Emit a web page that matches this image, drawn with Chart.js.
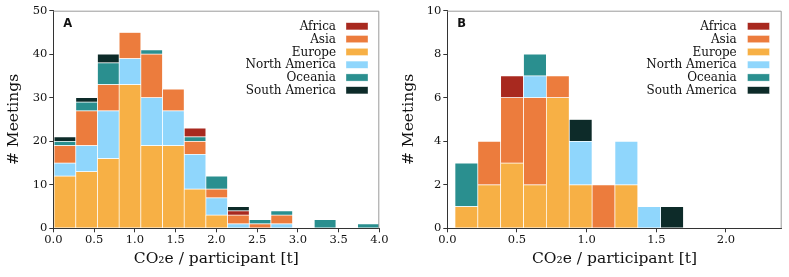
<!DOCTYPE html>
<html>
<head>
<meta charset="utf-8">
<script src="https://cdn.jsdelivr.net/npm/chart.js@4.4.0/dist/chart.umd.min.js"></script>
<style>
  html, body { margin: 0; padding: 0; background: #fff; }
  #wrap { position: relative; width: 789px; height: 277px; }
  #chartA { position: absolute; left: 0; top: 0; }
  #chartB { position: absolute; left: 395px; top: 0; }
</style>
</head>
<body>
<div id="wrap">
  <canvas id="chartA" width="395" height="277"></canvas>
  <canvas id="chartB" width="394" height="277"></canvas>
</div>
<script>
  'use strict';

  const regions = ['Africa', 'Asia', 'Europe', 'North America', 'Oceania', 'South America'];
  const regionColors = ['#a8291f', '#ec7c3d', '#f7b045', '#8fd6fc', '#2a8f8f', '#0d2b29'];

  // panel A : meetings per bin (bin centres in t CO2e / participant)
  const binsA = [0.143, 0.409, 0.675, 0.941, 1.207, 1.473, 1.739, 2.005, 2.271, 2.537, 2.803, 3.069, 3.335, 3.601, 3.867];
  const africaA       = [0, 0, 0, 0, 0, 0, 2, 0, 1, 0, 0, 0, 0, 0, 0];
  const asiaA         = [4, 8, 6, 6, 10, 5, 3, 2, 2, 1, 2, 0, 0, 0, 0];
  const europeA       = [12, 13, 16, 33, 19, 19, 9, 3, 0, 0, 0, 0, 0, 0, 0];
  const northAmericaA = [3, 6, 11, 6, 11, 8, 8, 4, 1, 0, 1, 0, 0, 0, 0];
  const oceaniaA      = [1, 2, 5, 0, 1, 0, 1, 3, 0, 1, 1, 0, 2, 0, 1];
  const southAmericaA = [1, 1, 2, 0, 0, 0, 0, 0, 1, 0, 0, 0, 0, 0, 0];
  const stackOrderA = ['Europe', 'North America', 'Asia', 'Oceania', 'Africa', 'South America'];
  const xTicksA = [0, 0.5, 1, 1.5, 2, 2.5, 3, 3.5, 4];
  const yTicksA = [0, 10, 20, 30, 40, 50];

  // panel B
  const binsB = [0.137, 0.301, 0.465, 0.629, 0.793, 0.957, 1.121, 1.285, 1.449, 1.613];
  const africaB       = [0, 0, 1, 0, 0, 0, 0, 0, 0, 0];
  const asiaB         = [0, 2, 3, 4, 1, 0, 2, 0, 0, 0];
  const europeB       = [1, 2, 3, 2, 6, 2, 0, 2, 0, 0];
  const northAmericaB = [0, 0, 0, 1, 0, 2, 0, 2, 1, 0];
  const oceaniaB      = [2, 0, 0, 1, 0, 0, 0, 0, 0, 0];
  const southAmericaB = [0, 0, 0, 0, 0, 1, 0, 0, 0, 1];
  const stackOrderB = ['Europe', 'Asia', 'North America', 'Oceania', 'Africa', 'South America'];
  const xTicksB = [0, 0.5, 1, 1.5, 2];
  const yTicksB = [0, 2, 4, 6, 8, 10];

  const serif = '"DejaVu Serif", serif';

  // frame, legend and panel letter
  const decoPlugin = {
    id: 'deco',
    afterDraw(chart, args, opts) {
      const ctx = chart.ctx;
      const a = chart.chartArea;
      ctx.save();
      // top / right spines
      ctx.strokeStyle = '#9a9a9a';
      ctx.lineWidth = 1;
      ctx.beginPath();
      ctx.moveTo(a.left, a.top + 0.5);
      ctx.lineTo(a.right - 0.5, a.top + 0.5);
      ctx.lineTo(a.right - 0.5, a.bottom);
      ctx.stroke();

      // panel letter
      ctx.fillStyle = '#111';
      ctx.font = 'bold 11.5px "DejaVu Sans", sans-serif';
      ctx.textAlign = 'left';
      ctx.textBaseline = 'alphabetic';
      ctx.fillText(opts.letter, a.left + 10, 27);

      // legend
      ctx.font = '12px ' + serif;
      ctx.textAlign = 'right';
      ctx.textBaseline = 'middle';
      regions.forEach(function(name, i) {
        const y = 26.3 + i * 12.8;
        ctx.fillStyle = '#111';
        ctx.fillText(name, opts.textRight, y + 0.5);
        ctx.fillStyle = regionColors[i];
        ctx.fillRect(opts.boxLeft, y - 3.6, 22, 7.2);
        ctx.strokeStyle = 'rgba(255,255,255,0.6)';
        ctx.lineWidth = 0.6;
        ctx.strokeRect(opts.boxLeft, y - 3.6, 22, 7.2);
      });
      ctx.restore();
    }
  };

  function makeChart(id, p) {
    const canvas = document.getElementById(id);
    const datasets = p.stackOrder.map(function(name) {
      const i = regions.indexOf(name);
      return {
        label: name,
        data: p.bins.map(function(x, k) {
          const v = p.series[name][k];
          return { x: x, y: v === 0 ? null : v };
        }),
        backgroundColor: regionColors[i],
        borderColor: 'rgba(255,255,255,0.85)',
        borderWidth: 0.7,
        borderSkipped: false,
        barPercentage: 1,
        categoryPercentage: 1
      };
    });

    return new Chart(canvas, {
      type: 'bar',
      data: { datasets: datasets },
      plugins: [decoPlugin],
      options: {
        responsive: false,
        animation: false,
        devicePixelRatio: 1,
        layout: {
          padding: { left: 0, top: p.area.top, right: canvas.width - p.area.right, bottom: 0 }
        },
        plugins: {
          legend: { display: false },
          tooltip: { enabled: false },
          deco: { letter: p.letter, textRight: p.legendTextRight, boxLeft: p.legendBoxLeft }
        },
        scales: {
          x: {
            type: 'linear',
            stacked: true,
            min: 0,
            max: p.xMax,
            offset: false,
            afterFit: function(s) { s.height = canvas.height - p.area.bottom; },
            afterBuildTicks: function(s) { s.ticks = p.xTicks.map(function(v) { return { value: v }; }); },
            grid: { display: true, offset: false, drawOnChartArea: false, drawTicks: true, tickLength: 4, color: '#333', tickWidth: 1 },
            border: { display: true, color: '#333', width: 1 },
            ticks: {
              padding: 1,
              color: '#111',
              font: { family: serif, size: 11.5 },
              maxRotation: 0,
              callback: function(v) { return v.toFixed(1); }
            },
            title: {
              display: true,
              text: 'CO₂e / participant [t]',
              color: '#111',
              font: { family: serif, size: 15.5 },
              padding: { top: 0, bottom: 9 }
            }
          },
          y: {
            stacked: true,
            min: 0,
            max: p.yMax,
            afterFit: function(s) { s.width = p.area.left; },
            afterBuildTicks: function(s) { s.ticks = p.yTicks.map(function(v) { return { value: v }; }); },
            grid: { display: true, offset: false, drawOnChartArea: false, drawTicks: true, tickLength: 4, color: '#333', tickWidth: 1 },
            border: { display: true, color: '#333', width: 1 },
            ticks: {
              padding: 2,
              color: '#111',
              font: { family: serif, size: 11.5 }
            },
            title: {
              display: true,
              text: '# Meetings',
              color: '#111',
              font: { family: serif, size: 15.5 },
              padding: { top: 5, bottom: 0 }
            }
          }
        }
      }
    });
  }

  makeChart('chartA', {
    letter: 'A',
    bins: binsA,
    series: {
      'Africa': africaA, 'Asia': asiaA, 'Europe': europeA,
      'North America': northAmericaA, 'Oceania': oceaniaA, 'South America': southAmericaA
    },
    stackOrder: stackOrderA,
    xMax: 4, yMax: 50,
    xTicks: xTicksA, yTicks: yTicksA,
    area: { left: 53.3, top: 10.7, right: 379.3, bottom: 228.3 },
    legendTextRight: 336, legendBoxLeft: 346
  });

  makeChart('chartB', {
    letter: 'B',
    bins: binsB,
    series: {
      'Africa': africaB, 'Asia': asiaB, 'Europe': europeB,
      'North America': northAmericaB, 'Oceania': oceaniaB, 'South America': southAmericaB
    },
    stackOrder: stackOrderB,
    xMax: 2.4, yMax: 10,
    xTicks: xTicksB, yTicks: yTicksB,
    area: { left: 52.3, top: 10.7, right: 386.7, bottom: 228.3 },
    legendTextRight: 341.7, legendBoxLeft: 352.5
  });
</script>
</body>
</html>
